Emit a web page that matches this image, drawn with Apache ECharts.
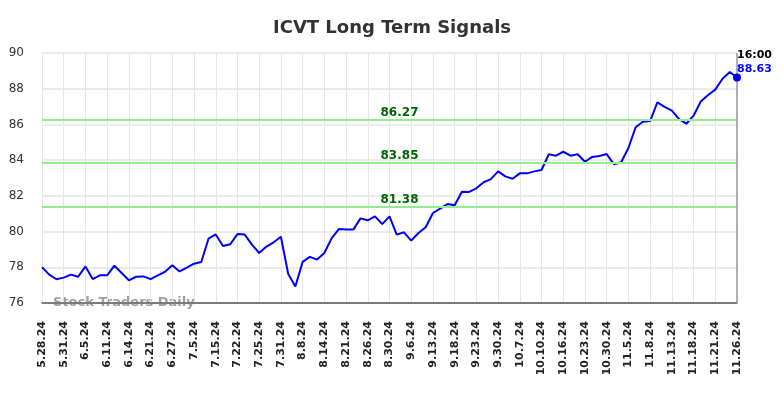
<!DOCTYPE html>
<html>
<head>
<meta charset="utf-8">
<script src="https://cdn.jsdelivr.net/npm/echarts@6/dist/echarts.min.js"></script>
<style>
  html, body { margin: 0; padding: 0; background: #fff; }
  #chart { width: 784px; height: 398px; }
</style>
</head>
<body>
<div id="chart"></div>
<script>
// tick labels, one every 3 points
const dateLabels = [
  '5.28.24', '5.31.24', '6.5.24', '6.11.24', '6.14.24', '6.21.24', '6.27.24', '7.5.24',
  '7.15.24', '7.22.24', '7.25.24', '7.31.24', '8.8.24', '8.14.24', '8.21.24', '8.26.24',
  '8.30.24', '9.6.24', '9.13.24', '9.18.24', '9.23.24', '9.30.24', '10.7.24', '10.10.24',
  '10.16.24', '10.23.24', '10.30.24', '11.5.24', '11.8.24', '11.13.24', '11.18.24', '11.21.24',
  '11.26.24'
];

// closing prices
const prices = [
  78.0, 77.59, 77.33, 77.42, 77.59, 77.47, 78.05, 77.34, 77.55, 77.55,
  78.09, 77.68, 77.27, 77.47, 77.49, 77.34, 77.55, 77.75, 78.11, 77.77,
  77.98, 78.2, 78.3, 79.6, 79.84, 79.19, 79.29, 79.86, 79.83, 79.27,
  78.8, 79.16, 79.4, 79.71, 77.64, 76.93, 78.3, 78.58, 78.43, 78.8,
  79.62, 80.14, 80.11, 80.11, 80.74, 80.63, 80.85, 80.42, 80.85, 79.83,
  79.96, 79.49, 79.92, 80.24, 81.04, 81.28, 81.54, 81.47, 82.23, 82.22,
  82.42, 82.76, 82.94, 83.37, 83.09, 82.96, 83.26, 83.26, 83.37, 83.45,
  84.33, 84.25, 84.47, 84.25, 84.33, 83.91, 84.18, 84.23, 84.34, 83.77,
  83.88, 84.68, 85.84, 86.15, 86.19, 87.24, 86.98, 86.77, 86.3, 86.04,
  86.49, 87.29, 87.65, 87.95, 88.56, 88.94, 88.63
];

// signal levels
const signals = [86.27, 83.85, 81.38];
const lastTime = '16:00';

// category per point, only every 3rd one gets shown
const cats = prices.map((v, i) => i % 3 === 0 ? dateLabels[i / 3] : dateLabels[Math.floor(i / 3)] + '_' + (i % 3));
const lastIdx = prices.length - 1;
const font = 'DejaVu Sans';

const chart = echarts.init(document.getElementById('chart'));

chart.setOption({
  animation: false,
  backgroundColor: '#fff',
  title: {
    text: 'ICVT Long Term Signals',
    left: 'center',
    top: 14,
    textStyle: { fontFamily: font, fontSize: 18, fontWeight: 'bold', color: '#333' }
  },
  grid: { left: 42, right: 47, top: 53, bottom: 95 },
  xAxis: {
    type: 'category',
    data: cats,
    boundaryGap: false,
    axisLine: { lineStyle: { color: '#555', width: 1.5 } },
    axisTick: { show: false },
    axisLabel: {
      interval: 2,
      rotate: 90,
      margin: 18,
      fontFamily: font,
      fontSize: 11,
      fontWeight: 'bold',
      color: '#222'
    },
    splitLine: { show: true, interval: 2, lineStyle: { color: '#e6e6e6', width: 1 } }
  },
  yAxis: {
    type: 'value',
    min: 76,
    max: 90,
    interval: 2,
    axisLine: { show: false },
    axisTick: { show: false },
    axisLabel: { margin: 18, fontFamily: font, fontSize: 12, color: '#333' },
    splitLine: { lineStyle: { color: '#ebebeb', width: 2 } }
  },
  graphic: [{
    type: 'text',
    left: 53,
    top: 296,
    style: { text: 'Stock Traders Daily', fontFamily: font, fontSize: 13, fontWeight: 'bold', fill: '#a0a0a0' }
  }],
  series: [{
    type: 'line',
    data: prices,
    showSymbol: false,
    lineStyle: { color: '#0000ff', width: 2 },
    itemStyle: { color: '#0000ff' },
    z: 3,
    markLine: {
      silent: true,
      symbol: 'none',
      animation: false,
      data: signals.map(s => ({
        yAxis: s,
        lineStyle: { color: '#90ee90', width: 2, type: 'solid' },
        label: {
          show: true,
          position: 'insideMiddleTop',
          distance: 1,
          padding: [0, 0, 0, 20],
          formatter: s.toFixed(2),
          fontFamily: font,
          fontSize: 12,
          fontWeight: 'bold',
          color: '#006400'
        }
      })).concat([{
        xAxis: lastIdx,
        lineStyle: { color: '#999', width: 1.5, type: 'solid' },
        label: { show: false }
      }])
    },
    markPoint: {
      silent: true,
      animation: false,
      data: [{
        coord: [lastIdx, prices[lastIdx]],
        symbol: 'circle',
        symbolSize: 8,
        itemStyle: { color: '#0000ff' },
        label: {
          show: true,
          position: [4, -25],
          align: 'left',
          verticalAlign: 'top',
          formatter: '{t|' + lastTime + '}\n{v|' + prices[lastIdx].toFixed(2) + '}',
          rich: {
            t: { fontFamily: font, fontSize: 11, fontWeight: 'bold', color: '#000', lineHeight: 14 },
            v: { fontFamily: font, fontSize: 11, fontWeight: 'bold', color: '#0000ff', lineHeight: 14 }
          }
        }
      }]
    }
  }]
});
</script>
</body>
</html>
